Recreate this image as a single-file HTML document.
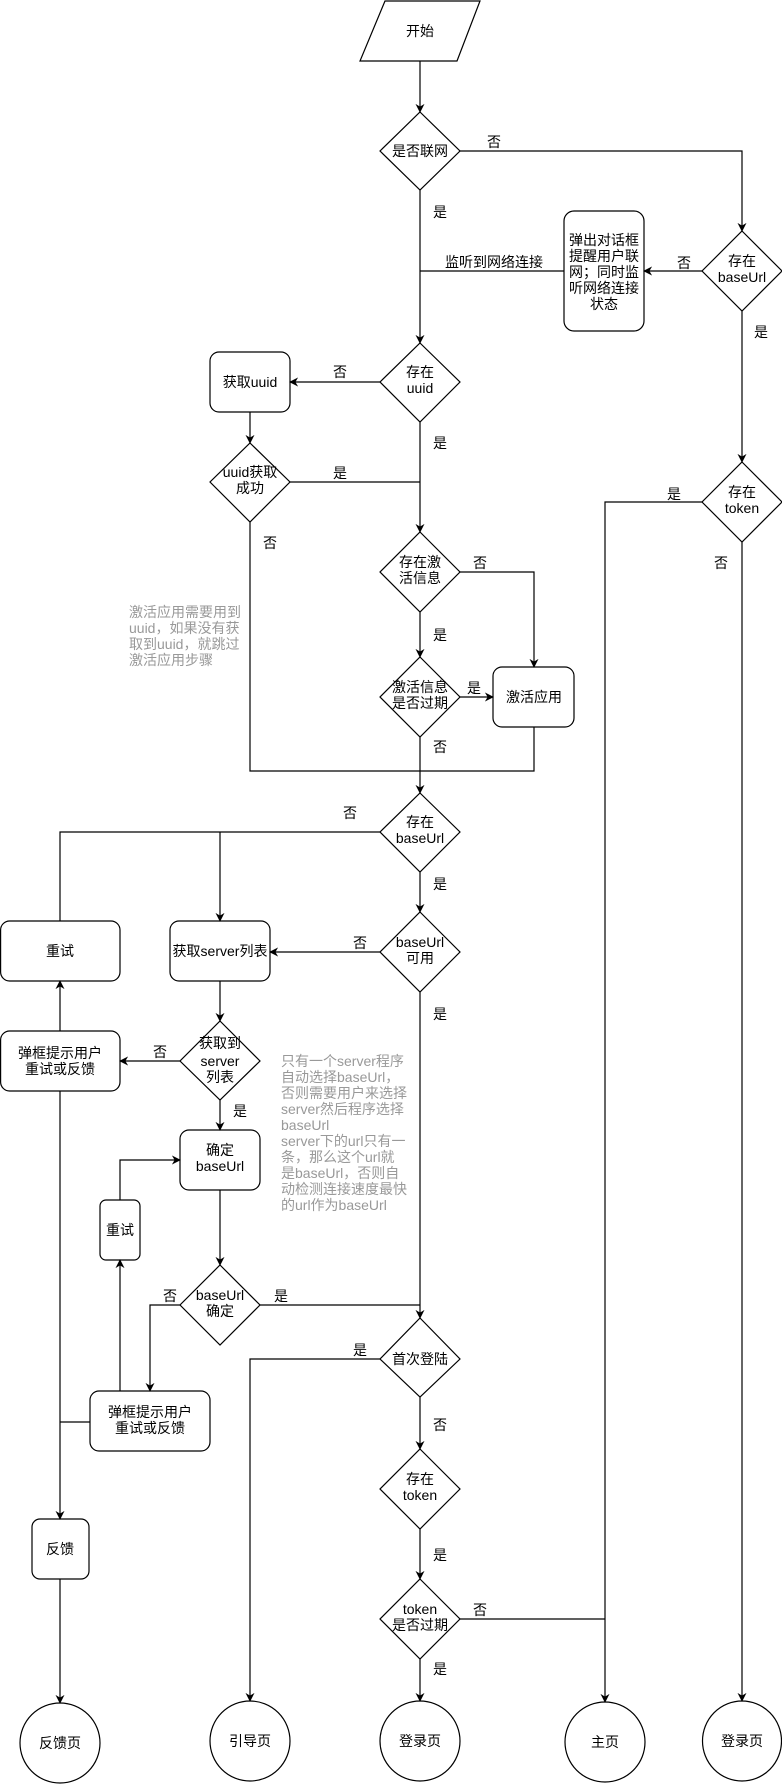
<!DOCTYPE html>
<html><head><meta charset="utf-8"><style>
html,body{margin:0;padding:0;background:#fff;}
svg{display:block;}
text{font-family:"Liberation Sans","Noto Sans CJK SC",sans-serif;font-size:14px;fill:#000;}
.g{fill:#999;}
</style></head><body>
<svg width="782" height="1784" viewBox="0 0 782 1784" xmlns="http://www.w3.org/2000/svg">
<defs>
<marker id="a" viewBox="0 0 10 10" refX="9" refY="5" markerWidth="9" markerHeight="9" markerUnits="userSpaceOnUse" orient="auto">
<path d="M0,0 L10,5 L0,10 L3,5 Z" fill="#000"/>
</marker>
</defs>
<g fill="#fff" stroke="#000" stroke-width="1.2">
<!-- start -->
<polygon points="385,1 480,1 457,61 360,61"/>
<!-- diamonds -->
<polygon points="420,112 460,151 420,190 380,151"/>
<polygon points="742,231 782,271 742,311 702,271"/>
<polygon points="420,343 460,382 420,422 380,382"/>
<polygon points="250,443 290,482 250,522 210,482"/>
<polygon points="420,532 460,572 420,612 380,572"/>
<polygon points="420,657 460,697 420,737 380,697"/>
<polygon points="742,462 782,502 742,542 702,502"/>
<polygon points="420,793 460,832 420,872 380,832"/>
<polygon points="420,912 460,952 420,992 380,952"/>
<polygon points="220,1021 260,1061 220,1100 180,1061"/>
<polygon points="220,1265 260,1305 220,1345 180,1305"/>
<polygon points="420,1318 460,1359 420,1397 380,1359"/>
<polygon points="420,1449 460,1489 420,1529 380,1489"/>
<polygon points="420,1579 460,1619 420,1659 380,1619"/>
<!-- boxes -->
<rect x="564" y="211" width="80" height="120" rx="10"/>
<rect x="210" y="352" width="80" height="60" rx="9"/>
<rect x="493" y="667" width="81" height="60" rx="9"/>
<rect x="0.6" y="921" width="119.4" height="60" rx="9"/>
<rect x="170" y="921" width="100" height="60" rx="9"/>
<rect x="0.6" y="1031" width="119.4" height="60" rx="9"/>
<rect x="180" y="1130" width="80" height="60" rx="9"/>
<rect x="100" y="1200" width="40" height="60" rx="6"/>
<rect x="90" y="1391" width="120" height="60" rx="9"/>
<rect x="32" y="1519" width="57" height="60" rx="8"/>
<!-- circles -->
<ellipse cx="60" cy="1743" rx="40" ry="40"/>
<ellipse cx="250" cy="1741" rx="40" ry="40"/>
<ellipse cx="420" cy="1741" rx="40" ry="40"/>
<ellipse cx="605" cy="1742" rx="40" ry="40"/>
<ellipse cx="742" cy="1741" rx="39.5" ry="40"/>
</g>
<g fill="none" stroke="#000" stroke-width="1.2">
<path d="M420,61 V112" marker-end="url(#a)"/>
<path d="M460,151 H742 V231" marker-end="url(#a)"/>
<path d="M702,271 H644" marker-end="url(#a)"/>
<path d="M564,271 H420"/>
<path d="M420,190 V343" marker-end="url(#a)"/>
<path d="M742,311 V462" marker-end="url(#a)"/>
<path d="M380,382 H290" marker-end="url(#a)"/>
<path d="M250,412 V443" marker-end="url(#a)"/>
<path d="M290,482 H420"/>
<path d="M420,422 V532" marker-end="url(#a)"/>
<path d="M420,612 V657" marker-end="url(#a)"/>
<path d="M460,572 H534 V667" marker-end="url(#a)"/>
<path d="M460,697 H493" marker-end="url(#a)"/>
<path d="M250,522 V771 H534 V727"/>
<path d="M420,737 V793" marker-end="url(#a)"/>
<path d="M702,502 H605 V1702" marker-end="url(#a)"/>
<path d="M742,542 V1701" marker-end="url(#a)"/>
<path d="M380,832 H60 V921"/>
<path d="M220,832 V921" marker-end="url(#a)"/>
<path d="M420,872 V912" marker-end="url(#a)"/>
<path d="M380,952 H270" marker-end="url(#a)"/>
<path d="M220,981 V1021" marker-end="url(#a)"/>
<path d="M180,1061 H120" marker-end="url(#a)"/>
<path d="M60,1031 V981" marker-end="url(#a)"/>
<path d="M220,1100 V1130" marker-end="url(#a)"/>
<path d="M220,1190 V1265" marker-end="url(#a)"/>
<path d="M120,1200 V1160 H180" marker-end="url(#a)"/>
<path d="M120,1391 V1260" marker-end="url(#a)"/>
<path d="M180,1305 H150 V1391" marker-end="url(#a)"/>
<path d="M260,1305 H420"/>
<path d="M420,992 V1318" marker-end="url(#a)"/>
<path d="M90,1422 H60"/>
<path d="M60,1091 V1519" marker-end="url(#a)"/>
<path d="M60,1579 V1703" marker-end="url(#a)"/>
<path d="M380,1359 H250 V1701" marker-end="url(#a)"/>
<path d="M420,1397 V1449" marker-end="url(#a)"/>
<path d="M420,1529 V1579" marker-end="url(#a)"/>
<path d="M460,1619 H605"/>
<path d="M420,1659 V1701" marker-end="url(#a)"/>
</g>
<g text-anchor="middle">
<text x="420" y="36">开始</text>
<text x="420" y="156">是否联网</text>
<text x="742" y="266">存在</text><text x="742" y="282">baseUrl</text>
<text x="604" y="245">弹出对话框</text><text x="604" y="261">提醒用户联</text><text x="604" y="277">网；同时监</text><text x="604" y="293">听网络连接</text><text x="604" y="309">状态</text>
<text x="420" y="377">存在</text><text x="420" y="393">uuid</text>
<text x="250" y="387">获取uuid</text>
<text x="250" y="477">uuid获取</text><text x="250" y="493">成功</text>
<text x="420" y="567">存在激</text><text x="420" y="583">活信息</text>
<text x="420" y="692">激活信息</text><text x="420" y="708">是否过期</text>
<text x="534" y="702">激活应用</text>
<text x="742" y="497">存在</text><text x="742" y="513">token</text>
<text x="420" y="827">存在</text><text x="420" y="843">baseUrl</text>
<text x="420" y="947">baseUrl</text><text x="420" y="963">可用</text>
<text x="60" y="956">重试</text>
<text x="220" y="956">获取server列表</text>
<text x="220" y="1048">获取到</text><text x="220" y="1066">server</text><text x="220" y="1082">列表</text>
<text x="60" y="1058">弹框提示用户</text><text x="60" y="1074">重试或反馈</text>
<text x="220" y="1155">确定</text><text x="220" y="1171">baseUrl</text>
<text x="120" y="1235">重试</text>
<text x="220" y="1300">baseUrl</text><text x="220" y="1316">确定</text>
<text x="420" y="1364">首次登陆</text>
<text x="150" y="1417">弹框提示用户</text><text x="150" y="1433">重试或反馈</text>
<text x="420" y="1484">存在</text><text x="420" y="1500">token</text>
<text x="420" y="1614">token</text><text x="420" y="1630">是否过期</text>
<text x="60" y="1554">反馈</text>
<text x="60" y="1748">反馈页</text>
<text x="250" y="1746">引导页</text>
<text x="420" y="1746">登录页</text>
<text x="605" y="1747">主页</text>
<text x="742" y="1746">登录页</text>
<!-- edge labels -->
<text x="494" y="147">否</text>
<text x="440" y="217">是</text>
<text x="494" y="267">监听到网络连接</text>
<text x="684" y="268">否</text>
<text x="761" y="337">是</text>
<text x="340" y="377">否</text>
<text x="440" y="448">是</text>
<text x="340" y="478">是</text>
<text x="270" y="548">否</text>
<text x="480" y="568">否</text>
<text x="440" y="640">是</text>
<text x="474" y="693">是</text>
<text x="440" y="752">否</text>
<text x="674" y="499">是</text>
<text x="721" y="568">否</text>
<text x="350" y="818">否</text>
<text x="440" y="889">是</text>
<text x="360" y="948">否</text>
<text x="440" y="1019">是</text>
<text x="160" y="1057">否</text>
<text x="240" y="1116">是</text>
<text x="170" y="1301">否</text>
<text x="281" y="1301">是</text>
<text x="360" y="1355">是</text>
<text x="440" y="1430">否</text>
<text x="440" y="1560">是</text>
<text x="480" y="1615">否</text>
<text x="440" y="1674">是</text>
</g>
<g class="g">
<text class="g" x="129" y="617">激活应用需要用到</text>
<text class="g" x="129" y="633">uuid，如果没有获</text>
<text class="g" x="129" y="649">取到uuid，就跳过</text>
<text class="g" x="129" y="665">激活应用步骤</text>
<text class="g" x="281" y="1066">只有一个server程序</text>
<text class="g" x="281" y="1082">自动选择baseUrl，</text>
<text class="g" x="281" y="1098">否则需要用户来选择</text>
<text class="g" x="281" y="1114">server然后程序选择</text>
<text class="g" x="281" y="1130">baseUrl</text>
<text class="g" x="281" y="1146">server下的url只有一</text>
<text class="g" x="281" y="1162">条，那么这个url就</text>
<text class="g" x="281" y="1178">是baseUrl，否则自</text>
<text class="g" x="281" y="1194">动检测连接速度最快</text>
<text class="g" x="281" y="1210">的url作为baseUrl</text>
</g>
</svg>
</body></html>
